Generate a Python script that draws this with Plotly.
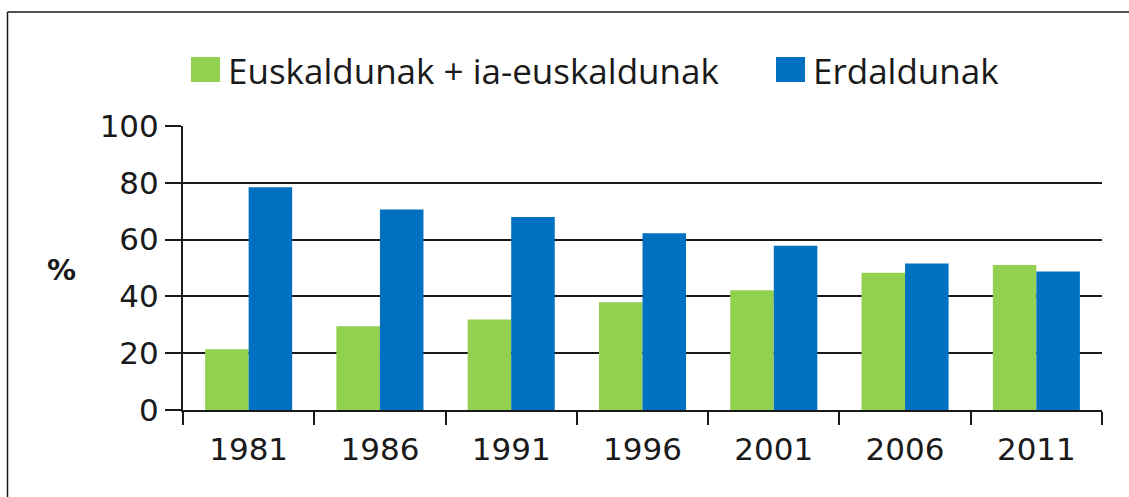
import plotly.graph_objects as go

years = ["1981", "1986", "1991", "1996", "2001", "2006", "2011"]
euskaldunak = [21.4, 29.5, 31.9, 37.9, 42.2, 48.3, 51.1]
erdaldunak = [78.4, 70.6, 68.0, 62.2, 57.8, 51.6, 48.8]
names = ["Euskaldunak + ia-euskaldunak", "Erdaldunak"]
colors = ["#92D050", "#0070C0"]
y_ticks = [0, 20, 40, 60, 80, 100]

W, H = 1129, 497
L, R, T, B = 183, 27, 126, 87
pw, ph = W - L - R, H - T - B

def px(x):
    return (x - L) / pw

def py(y):
    return (H - B - y) / ph

fig = go.Figure()
fig.add_trace(go.Bar(x=years, y=euskaldunak, name=names[0], marker_color=colors[0],
                     marker_line_width=0, showlegend=False))
fig.add_trace(go.Bar(x=years, y=erdaldunak, name=names[1], marker_color=colors[1],
                     marker_line_width=0, showlegend=False))

tickfont = dict(family="DejaVu Sans", size=31, color="#1a1a1a")
border = dict(color="#1a1a1a", width=1.5)

fig.update_layout(
    width=W, height=H,
    margin=dict(l=L, r=R, t=T, b=B),
    paper_bgcolor="white", plot_bgcolor="white",
    barmode="group", bargap=0.337, bargroupgap=0,
    xaxis=dict(
        type="category", showline=True, linecolor="#1a1a1a", linewidth=2,
        ticks="outside", tickson="boundaries", ticklen=13, tickwidth=2, tickcolor="#1a1a1a",
        tickfont=tickfont, showgrid=False, ticklabelstandoff=11,
    ),
    yaxis=dict(
        range=[0, 100], tickvals=y_ticks, showline=True, linecolor="#1a1a1a", linewidth=2,
        ticks="outside", ticklen=16, tickwidth=2, tickcolor="#1a1a1a",
        showgrid=True, gridcolor="#1a1a1a", gridwidth=2, zeroline=False,
        tickfont=tickfont,
    ),
    shapes=[
        dict(type="line", xref="paper", yref="paper", x0=px(7.5), x1=px(7.5), y0=py(497), y1=py(12),
             line=border, layer="below"),
        dict(type="line", xref="paper", yref="paper", x0=px(7.5), x1=px(1129), y0=py(12), y1=py(12),
             line=border, layer="below"),
        dict(type="rect", xref="paper", yref="paper", x0=px(191), x1=px(220), y0=py(82), y1=py(57),
             line=dict(width=0), fillcolor=colors[0]),
        dict(type="rect", xref="paper", yref="paper", x0=px(776), x1=px(805), y0=py(82), y1=py(57),
             line=dict(width=0), fillcolor=colors[1]),
    ],
    annotations=[
        dict(text="<b>%</b>", xref="paper", yref="paper", x=px(62), y=py(270), showarrow=False,
             font=dict(family="DejaVu Sans", size=29, color="#1a1a1a"), xanchor="center", yanchor="middle"),
        dict(text=names[0], xref="paper", yref="paper", x=px(226), y=py(70), showarrow=False,
             font=dict(family="Open Sans", size=35, color="#1a1a1a"), xanchor="left", yanchor="middle"),
        dict(text=names[1], xref="paper", yref="paper", x=px(811), y=py(70), showarrow=False,
             font=dict(family="Open Sans", size=35, color="#1a1a1a"), xanchor="left", yanchor="middle"),
    ],
)

fig.write_html("out.html", config={"displayModeBar": False},
               post_script="document.body.style.margin='0';document.body.style.overflow='hidden';")
